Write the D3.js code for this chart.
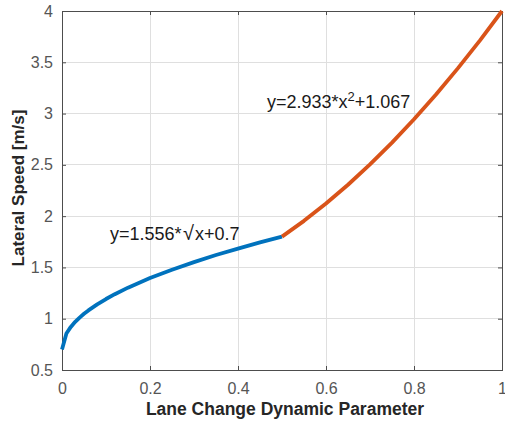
<!DOCTYPE html>
<html><head><meta charset="utf-8">
<script src="https://cdn.jsdelivr.net/npm/d3@7"></script>
<style>body{margin:0;background:#fff}svg{display:block}</style>
</head><body>
<svg id="c" width="505" height="425"></svg>
<script>
// Data
const sqrtX = [0, 0.01, 0.02, 0.03, 0.04, 0.05, 0.06, 0.08, 0.10, 0.12, 0.15, 0.20, 0.25, 0.30, 0.35, 0.40, 0.45, 0.50];
const sqrtY = [0.700, 0.856, 0.920, 0.970, 1.011, 1.048, 1.081, 1.140, 1.192, 1.239, 1.303, 1.396, 1.478, 1.552, 1.621, 1.684, 1.744, 1.800];
const quadX = [0.50, 0.55, 0.60, 0.65, 0.70, 0.75, 0.80, 0.85, 0.90, 0.95, 1.00];
const quadY = [1.800, 1.954, 2.123, 2.306, 2.504, 2.717, 2.944, 3.186, 3.443, 3.714, 4.000];
const xTicks = [0, 0.2, 0.4, 0.6, 0.8, 1];
const yTicks = [0.5, 1, 1.5, 2, 2.5, 3, 3.5, 4];
const xTickLabels = ["0", "0.2", "0.4", "0.6", "0.8", "1"];
const yTickLabels = ["0.5", "1", "1.5", "2", "2.5", "3", "3.5", "4"];

const svg = d3.select("#c");
const L = 62, R = 502, T = 11, B = 370;
const x = d3.scaleLinear().domain([0, 1]).range([L, R]);
const y = d3.scaleLinear().domain([0.5, 4]).range([B, T]);
const font = "Helvetica, Arial, 'Liberation Sans', sans-serif";

// grid
const g = svg.append("g");
g.selectAll(".gx").data(xTicks.slice(1, -1)).enter().append("line")
  .attr("x1", d => x(d)).attr("x2", d => x(d)).attr("y1", T).attr("y2", B)
  .attr("stroke", "#dfdfdf").attr("stroke-width", 1).attr("shape-rendering", "crispEdges");
g.selectAll(".gy").data(yTicks.slice(1, -1)).enter().append("line")
  .attr("y1", d => y(d)).attr("y2", d => y(d)).attr("x1", L).attr("x2", R)
  .attr("stroke", "#dfdfdf").attr("stroke-width", 1).attr("shape-rendering", "crispEdges");

// axes
const axColor = "#4d4d4d";
function styleAxis(sel) {
  sel.select(".domain").attr("stroke", axColor);
  sel.selectAll(".tick line").attr("stroke", axColor);
  sel.selectAll(".tick text").attr("fill", "#555555").attr("font-family", font).attr("font-size", 16);
}
const xb = svg.append("g").attr("transform", `translate(0,${B})`)
  .call(d3.axisBottom(x).tickValues(xTicks).tickFormat((d, i) => xTickLabels[i]).tickSizeInner(-4).tickSizeOuter(0).tickPadding(12.5));
styleAxis(xb);
const xt = svg.append("g").attr("transform", `translate(0,${T})`)
  .call(d3.axisTop(x).tickValues(xTicks).tickFormat("").tickSizeInner(-4).tickSizeOuter(0));
styleAxis(xt);
const yl = svg.append("g").attr("transform", `translate(${L},0)`)
  .call(d3.axisLeft(y).tickValues(yTicks).tickFormat((d, i) => yTickLabels[i]).tickSizeInner(-4).tickSizeOuter(0).tickPadding(9));
styleAxis(yl);
const yr = svg.append("g").attr("transform", `translate(${R},0)`)
  .call(d3.axisRight(y).tickValues(yTicks).tickFormat("").tickSizeInner(-4).tickSizeOuter(0));
styleAxis(yr);
svg.selectAll(".domain").attr("shape-rendering", "crispEdges");

// curves
const line = d3.line().x(d => x(d[0])).y(d => y(d[1]));
svg.append("path").datum(sqrtX.map((v, i) => [v, sqrtY[i]]))
  .attr("d", line).attr("fill", "none").attr("stroke", "#0072BD").attr("stroke-width", 3.8)
  .attr("stroke-linejoin", "round");
svg.append("path").datum(quadX.map((v, i) => [v, quadY[i]]))
  .attr("d", line).attr("fill", "none").attr("stroke", "#D95319").attr("stroke-width", 3.8)
  .attr("stroke-linejoin", "round");

// annotations
const t1 = svg.append("text").attr("x", 110).attr("y", 240)
  .attr("font-family", font).attr("font-size", 18).attr("fill", "#1a1a1a");
t1.append("tspan").text("y=1.556*");
t1.append("tspan").attr("dx", 1.5).attr("font-size", 20).text("\u221A");
t1.append("tspan").attr("dx", 1).text("x+0.7");
const t2 = svg.append("text").attr("x", 267).attr("y", 108)
  .attr("font-family", font).attr("font-size", 18).attr("fill", "#1a1a1a");
t2.append("tspan").text("y=2.933*x");
t2.append("tspan").attr("dy", -7).attr("font-size", 13).text("2");
t2.append("tspan").attr("dy", 7).text("+1.067");

// axis labels
svg.append("text").attr("x", 285).attr("y", 415).attr("text-anchor", "middle")
  .attr("font-family", font).attr("font-weight", "bold").attr("font-size", 17.5).attr("fill", "#262626")
  .text("Lane Change Dynamic Parameter");
svg.append("text").attr("transform", `translate(24,188) rotate(-90)`).attr("text-anchor", "middle")
  .attr("font-family", font).attr("font-weight", "bold").attr("font-size", 17).attr("fill", "#262626")
  .text("Lateral Speed [m/s]");
</script>
</body></html>
